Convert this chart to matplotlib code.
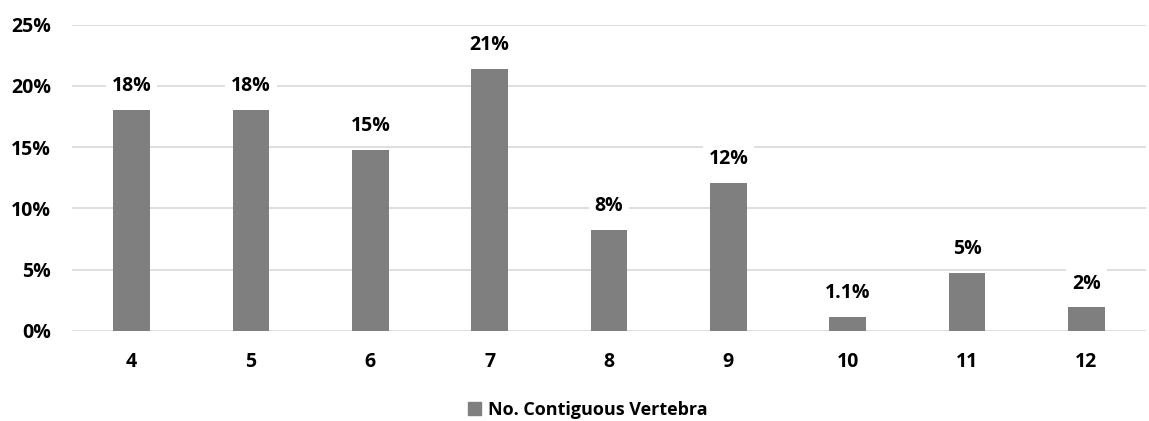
import matplotlib

matplotlib.use("Agg")
import matplotlib.pyplot as plt
from matplotlib.patches import Patch
from matplotlib.ticker import FuncFormatter, MultipleLocator

# share of cases by number of contiguous vertebrae involved (%)
categories = ["4", "5", "6", "7", "8", "9", "10", "11", "12"]
shares = [18.0, 18.0, 14.8, 21.4, 8.2, 12.1, 1.1, 4.7, 1.9]
series_name = "No. Contiguous Vertebra"

BAR = "#7f7f7f"
GRID = "#d9d9d9"
FONT = "Open Sans"
SIZE = 14

plt.rcParams["font.family"] = [FONT, "DejaVu Sans"]
plt.rcParams["font.weight"] = "bold"

fig = plt.figure(figsize=(11.49, 4.21), dpi=100)
ax = fig.add_axes([72 / 1149, 1 - 330.7 / 421, (1146 - 72) / 1149, (330.7 - 24.7) / 421])

x = range(len(categories))
bars = ax.bar(x, shares, width=0.31, color=BAR, zorder=2)

ax.set_xlim(-0.5, len(categories) - 0.5)
ax.set_ylim(0, 25)
ax.yaxis.set_major_locator(MultipleLocator(5))
ax.yaxis.set_major_formatter(FuncFormatter(lambda v, _: f"{v:.0f}%"))
ax.grid(axis="y", color=GRID, lw=1.2, zorder=0)
ax.set_axisbelow(True)
for s in ax.spines.values():
    s.set_visible(False)
ax.tick_params(length=0, labelsize=SIZE)
ax.tick_params(axis="y", pad=15)
ax.tick_params(axis="x", pad=15)
ax.set_xticks(list(x))
ax.set_xticklabels(categories, fontweight="bold")
for t in ax.get_yticklabels():
    t.set_fontweight("bold")


def fmt(v):
    return f"{v:.1f}%" if v < 1.5 else f"{v:.0f}%"


for rect, v in zip(bars, shares):
    ax.annotate(fmt(v), (rect.get_x() + rect.get_width() / 2, v),
                xytext=(0, 10), textcoords="offset points",
                ha="center", va="bottom", fontsize=SIZE, fontweight="bold",
                bbox=dict(boxstyle="square,pad=0.3", fc="white", ec="none"),
                zorder=3)

fig.legend(handles=[Patch(color=BAR, label=series_name)],
           loc="center", bbox_to_anchor=(588 / 1149, 1 - 410 / 421),
           frameon=False, handlelength=0.7, handleheight=0.7,
           handletextpad=0.4, prop={"family": FONT, "weight": "bold", "size": 13})

fig.savefig("out.png", dpi=100)
